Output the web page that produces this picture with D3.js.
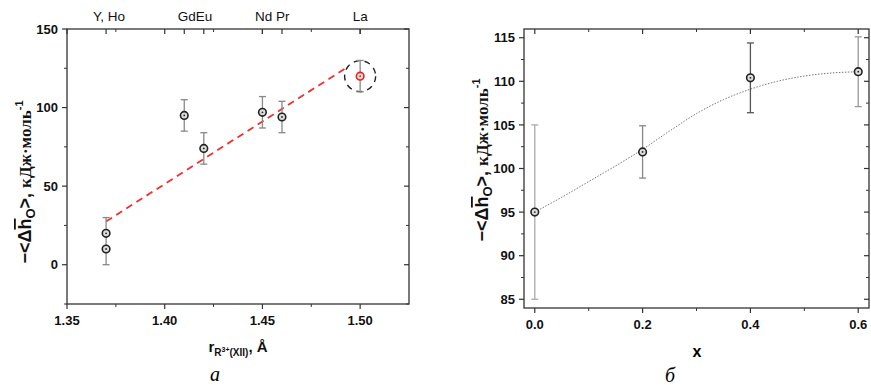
<!DOCTYPE html>
<html><head><meta charset="utf-8">
<script src="https://cdn.jsdelivr.net/npm/d3@7"></script>
<style>body{margin:0;background:#fff}svg{display:block}</style>
</head><body>
<svg id="c" width="871" height="385"></svg>
<script>
// Panel a data
const aRadius = [1.37, 1.37, 1.41, 1.42, 1.45, 1.46, 1.50];
const aValue  = [20, 10, 95, 74, 97, 94, 120];
const aErrLow = [null, 0, 85, 64, 87, 84, 110];
const aErrHigh= [30, null, 105, 84, 107, 104, 130];
const aRed    = [false, false, false, false, false, false, true];
const aTopPos = [1.37, 1.41, 1.42, 1.45, 1.46, 1.50];
const aTopLabels = [["Y, Ho",1.3715],["GdEu",1.4155],["Nd Pr",1.455],["La",1.50]];
const aFitX = [1.37, 1.4925];
const aFitY = [27.5, 125];
const aXTicks = [1.35, 1.40, 1.45, 1.50];
const aYTicks = [0, 50, 100, 150];
// Panel b data
const bX = [0, 0.2, 0.4, 0.6];
const bY = [95, 101.9, 110.4, 111.1];
const bErr = [10, 3, 4, 4];
const bErrColor = ["#aaa", "#888", "#555", "#999"];
const bCurveX = [0, 0.05, 0.1, 0.15, 0.2, 0.25, 0.3, 0.35, 0.4, 0.45, 0.5, 0.55, 0.6];
const bCurveY = [95, 96.7, 98.5, 100.3, 102.2, 104.3, 106.3, 107.9, 109.1, 110.0, 110.6, 110.95, 111.1];
const bXTicks = [0, 0.2, 0.4, 0.6];
const bYTicks = [85, 90, 95, 100, 105, 110, 115];

const svg = d3.select("#c");
const sans = "'Liberation Sans', Arial, sans-serif";
const serif = "'Liberation Serif', 'Times New Roman', serif";

function marker(g, x, y, color){
  g.append("circle").attr("cx",x).attr("cy",y).attr("r",3.8)
   .attr("fill","#ddd").attr("stroke",color).attr("stroke-width",1.6);
  g.append("circle").attr("cx",x).attr("cy",y).attr("r",0.9).attr("fill",color);
}
function errBar(g, x, y1, y2, color){
  if (y1!=null && y2!=null) g.append("line").attr("x1",x).attr("x2",x).attr("y1",y1).attr("y2",y2)
    .attr("stroke",color).attr("stroke-width",1.3);
  [y1,y2].forEach(y=>{ if(y!=null) g.append("line").attr("x1",x-3.5).attr("x2",x+3.5).attr("y1",y).attr("y2",y)
    .attr("stroke",color).attr("stroke-width",1.3);});
}
function frame(g, x, y, X0, X1, Y0, Y1, xt, yt, xMinor, yMinor, xfmt, yfmt){
  const ax = g.append("g").attr("font-family",sans).attr("font-weight","bold").attr("font-size",13).attr("fill","#111");
  ax.append("rect").attr("x",X0).attr("y",Y0).attr("width",X1-X0).attr("height",Y1-Y0)
    .attr("fill","none").attr("stroke","#333").attr("stroke-width",1.3);
  xt.forEach(v=>{
    ax.append("line").attr("x1",x(v)).attr("x2",x(v)).attr("y1",Y1).attr("y2",Y1+5).attr("stroke","#333").attr("stroke-width",1.2);
    ax.append("line").attr("x1",x(v)).attr("x2",x(v)).attr("y1",Y0).attr("y2",Y0+5).attr("stroke","#333").attr("stroke-width",1.2);
    ax.append("text").attr("x",x(v)).attr("y",Y1+21).attr("text-anchor","middle").text(xfmt(v));
  });
  xMinor.forEach(v=>{
    ax.append("line").attr("x1",x(v)).attr("x2",x(v)).attr("y1",Y1).attr("y2",Y1+3).attr("stroke","#333");
    ax.append("line").attr("x1",x(v)).attr("x2",x(v)).attr("y1",Y0).attr("y2",Y0+3).attr("stroke","#333");
  });
  yt.forEach(v=>{
    ax.append("line").attr("y1",y(v)).attr("y2",y(v)).attr("x1",X0-5).attr("x2",X0).attr("stroke","#333").attr("stroke-width",1.2);
    ax.append("line").attr("y1",y(v)).attr("y2",y(v)).attr("x1",X1-5).attr("x2",X1).attr("stroke","#333").attr("stroke-width",1.2);
    ax.append("text").attr("x",X0-9).attr("y",y(v)+4.7).attr("text-anchor","end").text(yfmt(v));
  });
  yMinor.forEach(v=>{
    ax.append("line").attr("y1",y(v)).attr("y2",y(v)).attr("x1",X0-3).attr("x2",X0).attr("stroke","#333");
    ax.append("line").attr("y1",y(v)).attr("y2",y(v)).attr("x1",X1-3).attr("x2",X1).attr("stroke","#333");
  });
}
function yTitle(cx, cy){
  const t = svg.append("text").attr("transform",`translate(${cx},${cy}) rotate(-90)`)
    .attr("text-anchor","middle").attr("font-weight","bold").attr("font-size",18).attr("fill","#111");
  t.append("tspan").attr("font-family",sans).text("\u2212<\u0394");
  t.append("tspan").attr("font-family",sans).style("text-decoration","overline").text("h");
  t.append("tspan").attr("font-family",sans).attr("font-size",13).attr("dy",4).text("O");
  t.append("tspan").attr("font-family",sans).attr("dy",-4).text(">, ");
  t.append("tspan").attr("font-family",serif).attr("font-size",17).text("кДж·моль");
  t.append("tspan").attr("font-family",sans).attr("font-size",11).attr("dy",-8).text("-1");
}

// ---- Panel a ----
const ga = svg.append("g");
const xa = d3.scaleLinear().domain([1.35,1.525]).range([67,409]);
const ya = d3.scaleLinear().domain([-25,150]).range([304,29]);
frame(ga, xa, ya, 67, 409, 29, 304, aXTicks, aYTicks,
  [1.375,1.425,1.475], [-25,25,75,125], d3.format(".2f"), d3.format("d"));
aTopPos.forEach(v=>{
  ga.append("line").attr("x1",xa(v)).attr("x2",xa(v)).attr("y1",29).attr("y2",34).attr("stroke","#333").attr("stroke-width",1.2);
});
aTopLabels.forEach(([s,v])=>{
  ga.append("text").attr("x",xa(v)).attr("y",21).attr("text-anchor","middle")
    .attr("font-family",sans).attr("font-size",13.5).attr("fill","#111").text(s);
});
ga.append("line").attr("x1",xa(aFitX[0])).attr("y1",ya(aFitY[0])).attr("x2",xa(aFitX[1])).attr("y2",ya(aFitY[1]))
  .attr("stroke","#f03030").attr("stroke-width",1.8).attr("stroke-dasharray","7,5");
ga.append("circle").attr("cx",xa(1.50)).attr("cy",ya(120)).attr("r",15.5)
  .attr("fill","none").attr("stroke","#222").attr("stroke-width",1.4).attr("stroke-dasharray","6,5");
aRadius.forEach((r,i)=>{
  errBar(ga, xa(r), aErrLow[i]!=null?ya(aErrLow[i]):null, aErrHigh[i]!=null?ya(aErrHigh[i]):null, "#888");
});
ga.append("line").attr("x1",xa(1.37)).attr("x2",xa(1.37)).attr("y1",ya(30)).attr("y2",ya(0)).attr("stroke","#888").attr("stroke-width",1.3);
aRadius.forEach((r,i)=>{ marker(ga, xa(r), ya(aValue[i]), aRed[i]?"#f02020":"#222"); });
const ta = svg.append("text").attr("x",238).attr("y",352).attr("text-anchor","middle")
  .attr("font-family",sans).attr("font-weight","bold").attr("font-size",15).attr("fill","#111");
ta.append("tspan").text("r");
ta.append("tspan").attr("font-size",10).attr("dy",4).text("R");
ta.append("tspan").attr("font-size",7).attr("dy",-4).text("3+");
ta.append("tspan").attr("font-size",10).attr("dy",4).text("(XII)");
ta.append("tspan").attr("dy",-4).text(", \u00C5");
svg.append("text").attr("x",215).attr("y",381).attr("text-anchor","middle").attr("font-family",serif)
  .attr("font-style","italic").attr("font-size",20).text("а");
yTitle(31, 182);

// ---- Panel b ----
const gb = svg.append("g");
const xb = d3.scaleLinear().domain([-0.02,0.62]).range([524,869]);
const yb = d3.scaleLinear().domain([84,116]).range([308,29]);
frame(gb, xb, yb, 524, 869, 29, 308, bXTicks, bYTicks,
  [0.1,0.3,0.5], [87.5,92.5,97.5,102.5,107.5,112.5], d3.format(".1f"), d3.format("d"));
gb.append("path").datum(bCurveX.map((x,i)=>[x,bCurveY[i]]))
  .attr("d", d3.line().x(d=>xb(d[0])).y(d=>yb(d[1])).curve(d3.curveMonotoneX))
  .attr("fill","none").attr("stroke","#777").attr("stroke-width",1).attr("stroke-dasharray","1.5,1.5");
bX.forEach((x,i)=>{ errBar(gb, xb(x), yb(bY[i]-bErr[i]), yb(bY[i]+bErr[i]), bErrColor[i]); });
bX.forEach((x,i)=>{ marker(gb, xb(x), yb(bY[i]), "#222"); });
svg.append("text").attr("x",697).attr("y",357).attr("text-anchor","middle").attr("font-family",sans)
  .attr("font-weight","bold").attr("font-size",16).text("x");
svg.append("text").attr("x",670).attr("y",382).attr("text-anchor","middle").attr("font-family",serif)
  .attr("font-style","italic").attr("font-size",20).text("б");
yTitle(488, 160);
</script>
</body></html>
